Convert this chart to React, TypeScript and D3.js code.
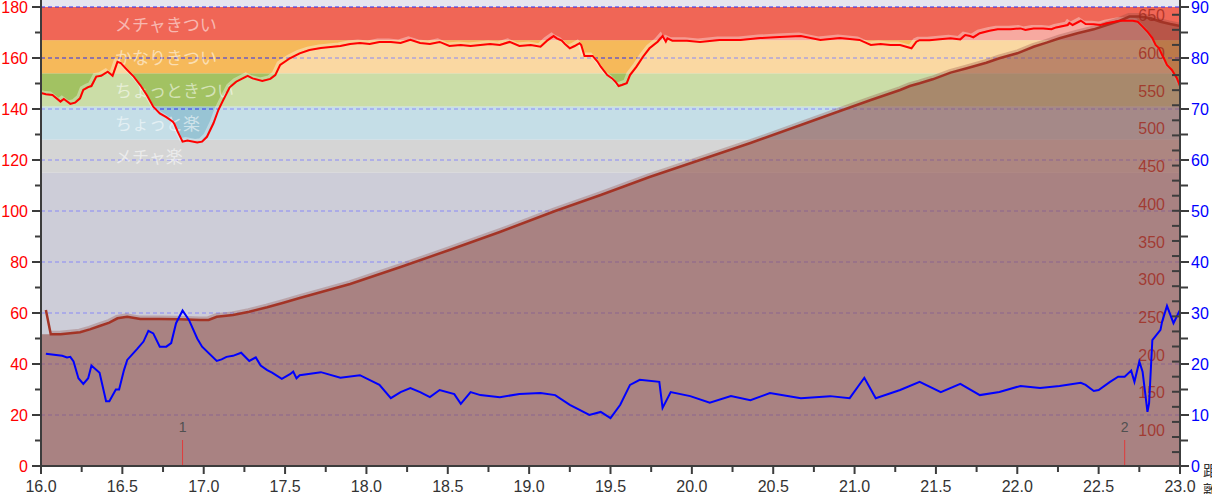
import React from 'react';
import * as d3 from 'd3';

// heart rate [bpm] by distance [km]
const hrKm = [16.0,16.03,16.07,16.12,16.14,16.18,16.21,16.24,16.26,16.29,
  16.31,16.34,16.37,16.41,16.44,16.47,16.49,16.53,16.57,16.61,
  16.65,16.69,16.73,16.77,16.81,16.82,16.84,16.87,16.90,16.96,
  16.99,17.02,17.06,17.09,17.12,17.16,17.20,17.27,17.30,17.36,
  17.41,17.44,17.47,17.53,17.59,17.65,17.72,17.78,17.84,17.90,
  17.96,18.02,18.08,18.15,18.21,18.27,18.33,18.39,18.45,18.51,
  18.58,18.64,18.70,18.76,18.82,18.88,18.94,19.01,19.07,19.11,
  19.15,19.17,19.20,19.22,19.25,19.28,19.31,19.32,19.34,19.39,
  19.42,19.44,19.48,19.51,19.53,19.55,19.57,19.60,19.62,19.66,
  19.70,19.74,19.79,19.82,19.84,19.85,19.88,19.93,19.97,20.05,
  20.17,20.30,20.42,20.54,20.67,20.79,20.91,21.03,21.10,21.16,
  21.22,21.28,21.35,21.38,21.40,21.46,21.59,21.65,21.68,21.71,
  21.73,21.77,21.83,21.88,21.96,22.02,22.05,22.10,22.16,22.21,
  22.24,22.31,22.32,22.34,22.39,22.42,22.47,22.51,22.55,22.63,
  22.71,22.74,22.77,22.80,22.83,22.85,22.87,22.89,22.90,22.92,
  22.95,22.98,23.0];
const hrBpm = [146.3,145.8,145.5,142.9,143.9,142.0,142.5,144.2,147.5,148.6,
  149.0,152.7,153.0,154.6,153.0,158.5,158.0,155.3,152.7,149.4,
  145.5,140.9,138.3,136.8,135.0,134.1,131.1,127.2,127.6,126.9,
  127.2,129.1,134.4,139.6,143.5,148.5,150.7,153.0,152.0,151.0,
  151.8,153.3,157.3,159.9,161.8,163.1,163.9,164.3,164.7,165.5,
  165.9,165.5,166.3,166.3,165.9,167.1,165.9,165.5,166.3,164.7,
  165.1,164.7,165.1,165.5,165.1,166.3,164.7,165.1,164.4,166.8,
  168.6,167.7,166.8,165.5,163.8,164.7,165.8,165.1,160.8,160.8,
  158.6,156.6,153.3,152.0,150.7,149.0,149.4,150.1,153.3,156.6,
  160.5,163.8,166.4,168.6,166.4,167.7,166.8,166.8,166.8,166.3,
  167.1,167.1,167.8,168.2,168.6,167.1,167.8,167.1,165.1,165.5,
  165.1,165.1,163.8,166.4,167.0,167.0,167.7,167.3,169.0,168.6,
  168.1,169.7,170.7,171.3,171.3,171.6,171.0,171.6,171.6,171.3,
  172.0,172.9,173.8,172.9,174.6,173.3,173.2,172.9,173.6,174.6,
  174.6,174.2,172.3,170.3,167.8,165.1,163.9,161.2,160.0,157.3,
  155.3,152.2,149.0];

// altitude [m]
const altKm = [16.0,16.06,16.12,16.18,16.24,16.30,16.36,16.42,16.47,16.53,
  16.61,16.73,16.85,16.98,17.03,17.08,17.18,17.28,17.39,17.49,
  17.59,17.90,18.21,18.51,18.82,19.16,19.44,19.74,20.05,20.36,
  20.67,20.91,21.10,21.28,21.34,21.40,21.48,21.59,21.69,21.81,
  21.89,22.00,22.10,22.18,22.26,22.37,22.47,22.55,22.63,22.69,
  22.75,22.82,22.88,22.94,23.0];
const altM = [236.2,236.2,236.2,237.5,238.9,242.8,247.2,251.6,257.4,259.5,
  256.5,256.5,256.1,255.2,255.2,259.5,261.8,266.2,272.0,278.1,
  284.4,302.9,325.5,348.0,371.9,399.7,421.0,444.8,467.4,489.9,
  513.8,532.4,546.9,560.2,565.5,569.1,574.4,583.2,589.0,596.4,
  602.3,608.9,617.6,623.0,628.8,635.4,640.7,646.4,652.1,657.7,
  657.7,655.3,650.8,647.7,645.1];
// first recorded sample, only on the line (gps glitch)
const altFirstKm = 16.03;
const altFirstM = 268.4;

// speed [km/h]
const spdKm = [16.03,16.13,16.16,16.18,16.20,16.23,16.26,16.29,16.31,16.36,
  16.40,16.42,16.46,16.48,16.51,16.53,16.59,16.63,16.66,16.69,
  16.73,16.77,16.80,16.83,16.87,16.91,16.96,16.99,17.08,17.11,
  17.14,17.18,17.23,17.28,17.32,17.35,17.39,17.42,17.48,17.53,
  17.55,17.57,17.59,17.72,17.84,17.96,18.08,18.15,18.21,18.27,
  18.33,18.39,18.45,18.54,18.58,18.64,18.70,18.82,18.94,19.07,
  19.16,19.25,19.31,19.37,19.44,19.50,19.56,19.62,19.68,19.80,
  19.82,19.87,19.99,20.11,20.24,20.36,20.48,20.67,20.85,20.97,
  21.06,21.13,21.28,21.40,21.53,21.65,21.77,21.89,22.02,22.14,
  22.26,22.39,22.42,22.47,22.50,22.57,22.62,22.66,22.70,22.72,
  22.75,22.77,22.80,22.81,22.83,22.88,22.89,22.92,22.96,23.0];
const spdVal = [22.0,21.6,21.3,21.4,20.5,17.2,16.1,17.2,19.7,18.3,
  12.7,12.7,15.0,15.0,18.8,20.8,22.9,24.4,26.5,26.0,
  23.4,23.4,24.1,28.0,30.5,28.6,25.0,23.4,20.6,20.9,
  21.4,21.6,22.2,20.6,21.3,19.7,18.8,18.3,17.1,18.0,
  18.5,17.2,17.8,18.4,17.3,17.8,15.9,13.3,14.5,15.3,
  14.5,13.5,14.9,14.1,12.2,14.5,13.9,13.5,14.1,14.3,
  13.9,12.0,11.0,10.0,10.6,9.4,12.0,15.9,16.9,16.5,
  11.4,14.5,13.7,12.4,13.7,12.9,14.3,13.3,13.7,13.3,
  17.3,13.3,14.9,16.5,14.5,16.1,13.9,14.5,15.7,15.3,
  15.7,16.3,15.9,14.7,14.9,16.5,17.5,17.5,18.7,16.5,
  20.5,18.5,10.6,12.3,24.7,26.7,28.3,31.4,28.0,30.6];

// heart rate zones
const zoneBounds = [115, 128, 141, 154, 167, 180];
const zoneNames = ['メチャ楽', 'ちょっと楽', 'ちょっときつい', 'かなりきつい', 'メチャきつい'];
const zoneColors = ['#b5b5b5', '#98c4d4', '#a2c262', '#f6b95a', '#f06656'];

const lapKm = [16.87, 22.66];
const lapNames = ['1', '2'];

const hrTicks = d3.range(0, 181, 10);
const kmTicks = d3.range(0, 29).map(i => 16 + i * 0.25);
const spdTicks = d3.range(0, 91, 5);
const altTicks = d3.range(80, 661, 20);
const altLabels = d3.range(100, 651, 50);

const axisColor = '#3c3c3c';
const font = '"Liberation Sans", Arial, sans-serif';

type P = [number, number];

export default function App() {
  const x = d3.scaleLinear().domain([16, 23]).range([41, 1180]);
  const yHr = d3.scaleLinear().domain([0, 180]).range([466, 7]);
  const ySpd = d3.scaleLinear().domain([0, 90]).range([466, 7]);
  const yAlt = d3.scaleLinear().domain([100, 650]).range([437, 22.3]);
  const left = x(16), right = x(23), bottom = yHr(0), top = 0;

  const hr: P[] = hrKm.map((k, i) => [k, hrBpm[i]]);
  const alt: P[] = altKm.map((k, i) => [k, altM[i]]);
  const altLinePts: P[] = [[altFirstKm, altFirstM] as P].concat(alt.slice(1));
  const spd: P[] = spdKm.map((k, i) => [k, spdVal[i]]);

  const hrArea = d3.area<P>().x(d => x(d[0])).y0(bottom).y1(d => yHr(d[1]));
  const hrLine = d3.line<P>().x(d => x(d[0])).y(d => yHr(d[1]));
  const altArea = d3.area<P>().x(d => x(d[0])).y0(bottom).y1(d => yAlt(d[1]));
  const altLine = d3.line<P>().x(d => x(d[0])).y(d => yAlt(d[1]));
  const spdLine = d3.line<P>().x(d => x(d[0])).y(d => ySpd(d[1]));

  return (
    <svg width={1212} height={494} style={{position: 'absolute', left: 0, top: 0, fontFamily: font}}>
      <defs>
        <clipPath id="plot">
          <rect x={left} y={top} width={right - left} height={bottom - top} />
        </clipPath>
      </defs>
      <g clipPath="url(#plot)">
        <rect x={left} y={top} width={right - left} height={bottom - top} fill="#e6e6f0" />
        <rect x={left} y={yHr(zoneBounds[0])} width={right - left} height={bottom - yHr(zoneBounds[0])} fill="#a6a6ba" />
        {zoneNames.map((n, i) => (
          <rect key={n} x={left} y={yHr(zoneBounds[i + 1])} width={right - left}
                height={yHr(zoneBounds[i]) - yHr(zoneBounds[i + 1])} fill={zoneColors[i]} />
        ))}
        {hrTicks.filter(t => t > 0 && t % 20 === 0).map(t => (
          <line key={t} x1={left} x2={right} y1={yHr(t)} y2={yHr(t)}
                stroke="#2f2ff0" strokeWidth={1} strokeDasharray="4,3" />
        ))}
        {/* lighter area under heart rate */}
        <path d={hrArea(hr) || ''} fill="#ffffff" fillOpacity={0.44} />
        <path d={hrLine(hr) || ''} fill="none" stroke="#ffffff" strokeOpacity={0.35} strokeWidth={3}
              transform="translate(-2,-2)" />
        {zoneNames.map((n, i) => (
          <text key={n} x={115} y={(yHr(zoneBounds[i]) + yHr(zoneBounds[i + 1])) / 2 + 1} dy="0.35em"
                fontSize={17} fontFamily='"Noto Sans CJK JP", sans-serif' fill="#ffffff" fillOpacity={0.55}>{n}</text>
        ))}
        {/* altitude */}
        <path d={altArea(alt) || ''} fill="rgb(140,71,62)" fillOpacity={0.56} />
        <path d={altLine(alt.slice(1)) || ''} fill="none" stroke="rgb(140,71,62)" strokeOpacity={0.3}
              strokeWidth={3} transform="translate(-1,-2)" />
        <path d={altLine(altLinePts) || ''} fill="none" stroke="#a33426" strokeWidth={2.5} />
        {altLabels.map(v => (
          <text key={v} x={1165} y={yAlt(v) - 1} textAnchor="end" fontSize={16}
                fill="#a0281c" fillOpacity={0.8}>{v}</text>
        ))}
        {lapKm.map((k, i) => (
          <g key={k}>
            <line x1={x(k)} x2={x(k)} y1={440} y2={bottom} stroke="#e03c3c" strokeWidth={1} />
            <text x={x(k)} y={427} dy="0.35em" textAnchor="middle" fontSize={14} fill="#505050">{lapNames[i]}</text>
          </g>
        ))}
        <path d={hrLine(hr) || ''} fill="none" stroke="#ff0000" strokeWidth={2} />
        <path d={spdLine(spd) || ''} fill="none" stroke="#0000ff" strokeWidth={2} />
      </g>

      {/* left axis: heart rate */}
      <line x1={left} x2={left} y1={top} y2={bottom + 1} stroke={axisColor} strokeWidth={2} />
      {hrTicks.map(t => (
        <g key={t}>
          <line x1={left - (t % 20 === 0 ? 9 : 6)} x2={left} y1={yHr(t)} y2={yHr(t)} stroke={axisColor} strokeWidth={2} />
          {t % 20 === 0 && (
            <text x={28} y={yHr(t)} dy="0.36em" textAnchor="end" fontSize={16} fill="#ff0000">{t}</text>
          )}
        </g>
      ))}

      {/* bottom axis: distance */}
      <line x1={left - 1} x2={right + 1} y1={bottom} y2={bottom} stroke={axisColor} strokeWidth={2} />
      {kmTicks.map((t, i) => (
        <g key={t}>
          <line x1={x(t)} x2={x(t)} y1={bottom} y2={bottom + (i % 2 === 0 ? 8 : 6)} stroke={axisColor} strokeWidth={2} />
          {i % 2 === 0 && (
            <text x={x(t)} y={492} textAnchor="middle" fontSize={16} fill="#333333">{t.toFixed(1)}</text>
          )}
        </g>
      ))}

      {/* right axis: speed (outside), altitude ticks (inside) */}
      <line x1={right} x2={right} y1={top} y2={bottom + 1} stroke={axisColor} strokeWidth={2} />
      {altTicks.map(t => (
        <line key={'a' + t} x1={right - 8} x2={right} y1={yAlt(t)} y2={yAlt(t)} stroke={axisColor} strokeWidth={2} />
      ))}
      {spdTicks.map(t => (
        <g key={t}>
          <line x1={right} x2={right + (t % 10 === 0 ? 9 : 8)} y1={ySpd(t)} y2={ySpd(t)} stroke={axisColor} strokeWidth={2} />
          {t % 10 === 0 && (
            <text x={1191} y={ySpd(t)} dy="0.36em" fontSize={16} fill="#0000ff">{t}</text>
          )}
        </g>
      ))}
      <text x={1203} y={476} fontSize={15} fill="#333333" fontFamily='"Noto Sans CJK JP", sans-serif'>距</text>
      <text x={1203} y={496} fontSize={15} fill="#333333" fontFamily='"Noto Sans CJK JP", sans-serif'>離</text>
    </svg>
  );
}
